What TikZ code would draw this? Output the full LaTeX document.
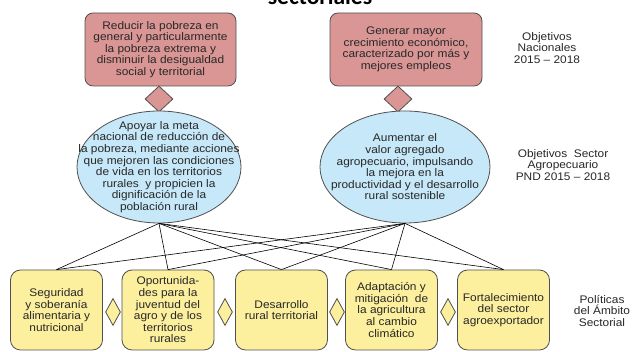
\documentclass[tikz,border=0pt]{standalone}
\usepackage{fontspec}
\setmainfont{Liberation Sans}[FakeStretch=1.08]
\newfontfamily\titlefont{Carlito}
\usetikzlibrary{shapes.geometric}
\definecolor{pinkf}{RGB}{217,150,148}
\definecolor{bluef}{RGB}{198,232,248}
\definecolor{yelf}{RGB}{252,239,158}
\definecolor{edge}{RGB}{80,80,80}
\definecolor{txt}{RGB}{40,40,40}
\begin{document}
\begin{tikzpicture}[x=1pt,y=1pt,
  every node/.style={font=\fontsize{11}{11.6}\selectfont, text=txt, align=center, inner sep=0pt},
  natbox/.style={draw=edge, line width=0.8pt, fill=pinkf, rounded corners=8pt, minimum height=73pt},
  secell/.style={draw=edge, line width=0.8pt, fill=bluef, ellipse, minimum height=112pt},
  polbox/.style={draw=edge, line width=0.8pt, fill=yelf, rounded corners=10pt, minimum width=92pt, minimum height=80pt},
  pdiam/.style={draw=edge, line width=0.8pt, fill=pinkf, diamond, minimum width=28pt, minimum height=26pt},
  ydiam/.style={draw=edge, line width=0.8pt, fill=yelf, diamond, minimum width=15pt, minimum height=27pt},
  link/.style={draw=black, line width=0.6pt},
  lbl/.style={text=txt}]
\useasboundingbox (0,0) rectangle (633,352);
\clip (0,0) rectangle (633,352);
\fill[white] (0,0) rectangle (633,352);
% title (cut off)
\node[anchor=base, font=\titlefont\bfseries\fontsize{23.5}{24}\selectfont, text=black] (title) at (320,347) {sectoriales};
% national objectives
\node[natbox, minimum width=151pt] (n1) at (160.5,302.5) {Reducir la pobreza en\\general y particularmente\\la pobreza extrema y\\disminuir la desigualdad\\social y territorial};
\node[natbox, minimum width=152pt] (n2) at (406,302.5) {Generar mayor\\crecimiento económico,\\caracterizado por más y\\mejores empleos};
\node[pdiam] (d1) at (159,253) {};
\node[pdiam] (d2) at (398,253) {};
% sector objectives
\node[secell, minimum width=164pt] (s1) at (159,185) {};
\node (s1t) at (s1.center) {Apoyar la meta\\nacional de reducción de\\la pobreza, mediante acciones\\que mejoren las condiciones\\de vida en los territorios\\rurales\ \ y propicien la\\dignificación de la\\población rural};
\node[secell, minimum width=170pt] (s2) at (405,185) {};
\node (s2t) at (s2.center) {Aumentar el\\valor agregado\\agropecuario, impulsando\\la mejora en la\\productividad y el desarrollo\\rural sostenible};
% policies
\node[polbox] (p1) at (56.5,42) {Seguridad\\y soberanía\\alimentaria y\\nutricional};
\node[polbox] (p2) at (168,42) {Oportunida-\\des para la\\juventud del\\agro y de los\\territorios\\rurales};
\node[polbox] (p3) at (281.5,42) {Desarrollo\\rural territorial};
\node[polbox] (p4) at (391.5,42) {Adaptación y\\mitigación\ \ de\\la agricultura\\al cambio\\climático};
\node[polbox] (p5) at (503.5,42) {Fortalecimiento\\del sector\\agroexportador};
\node[ydiam] (y1) at (113,40) {};
\node[ydiam] (y2) at (225,40) {};
\node[ydiam] (y3) at (337,40) {};
\node[ydiam] (y4) at (448,40) {};
% links
\foreach \s in {s1,s2}{
  \foreach \p in {p1,p2,p3,p4,p5}{
    \draw[link] (\s.south) -- (\p.north);
  }
}
% right labels
\node[lbl] (l1) at (547,304) {Objetivos\\Nacionales\\2015 – 2018};
\node[lbl] (l2) at (563,187) {Objetivos\ \ Sector\\Agropecuario\\PND 2015 – 2018};
\node[lbl] (l3) at (602,41) {Políticas\\del Ámbito\\Sectorial};
\end{tikzpicture}
\end{document}
